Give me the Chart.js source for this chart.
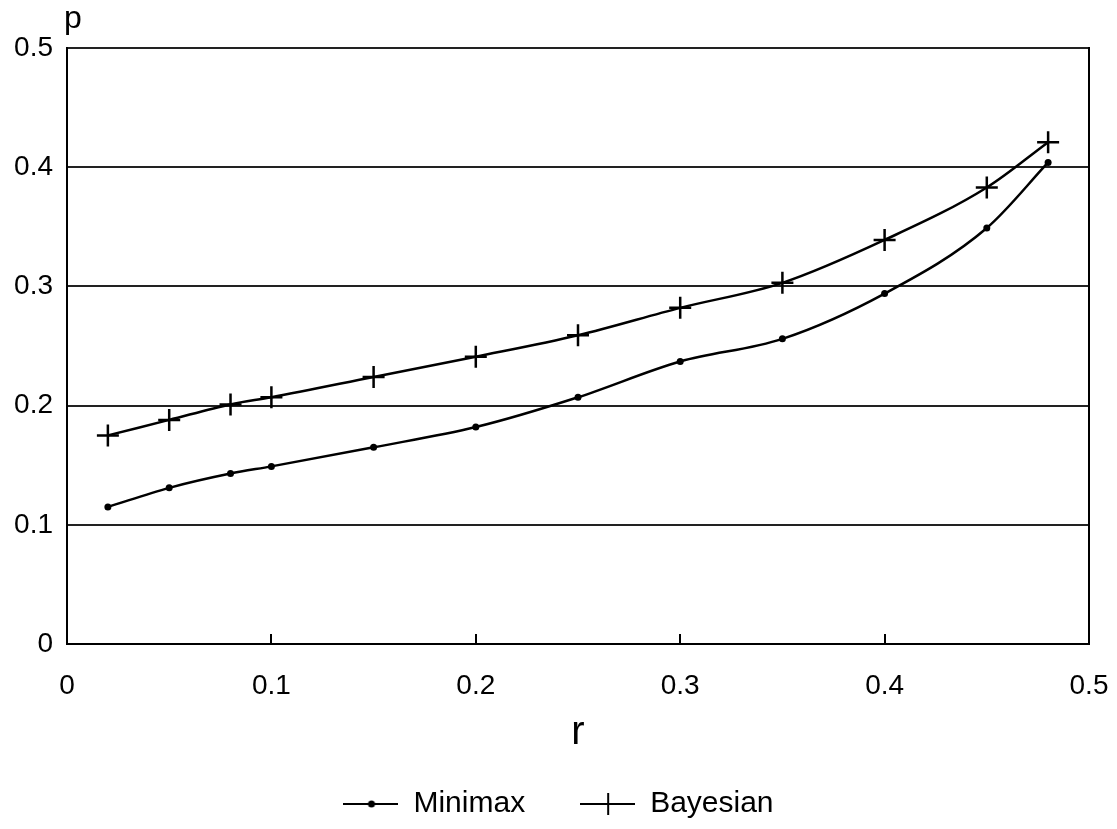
<!DOCTYPE html>
<html>
<head>
<meta charset="utf-8">
<script src="https://cdn.jsdelivr.net/npm/chart.js@4"></script>
<style>
  html, body { margin: 0; padding: 0; background: #fff; }
  #wrap { width: 1117px; height: 829px; }
</style>
</head>
<body>
<div id="wrap"><canvas id="chart"></canvas></div>
<script>
// values
const rValues = [0.02, 0.05, 0.08, 0.1, 0.15, 0.2, 0.25, 0.3, 0.35, 0.4, 0.45, 0.48];
const minimax = [0.115, 0.131, 0.143, 0.149, 0.165, 0.182, 0.207, 0.237, 0.256, 0.294, 0.349, 0.404];
const bayesian = [0.175, 0.188, 0.201, 0.207, 0.224, 0.241, 0.259, 0.282, 0.303, 0.339, 0.383, 0.421];
const xTickLabels = ['0', '0.1', '0.2', '0.3', '0.4', '0.5'];
const yTickLabels = ['0', '0.1', '0.2', '0.3', '0.4', '0.5'];

const FONT = 'Liberation Sans, Arial, sans-serif';

// little legend markers: a line with a dot, a line with a bar through it
function legendMark(kind) {
    const c = document.createElement('canvas');
    c.width = 55;
    c.height = 24;
    const g = c.getContext('2d');
    g.strokeStyle = '#000';
    g.fillStyle = '#000';
    g.lineWidth = 2;
    g.beginPath();
    g.moveTo(0, 12);
    g.lineTo(55, 12);
    g.stroke();
    if (kind === 'dot') {
        g.beginPath();
        g.arc(28, 12, 3.5, 0, Math.PI * 2);
        g.fill();
    } else {
        g.beginPath();
        g.moveTo(28, 1);
        g.lineTo(28, 23);
        g.stroke();
    }
    return c;
}
const marks = [legendMark('dot'), legendMark('cross')];

// "p" sits above the y axis, not rotated
const pLabel = {
    id: 'pLabel',
    afterDraw(chart) {
        const {ctx, chartArea} = chart;
        ctx.save();
        ctx.font = '32px ' + FONT;
        ctx.fillStyle = '#000';
        ctx.textAlign = 'left';
        ctx.textBaseline = 'alphabetic';
        ctx.fillText('p', chartArea.left - 3, chartArea.top - 20);
        ctx.restore();
    }
};

const ctx = document.querySelector('#chart').getContext('2d');

new Chart(ctx, {
    type: 'line',
    data: {
        datasets: [
            {
                label: 'Minimax',
                data: rValues.map((r, i) => ({x: r, y: minimax[i]})),
                borderColor: '#000',
                backgroundColor: '#000',
                borderWidth: 2.5,
                pointStyle: 'circle',
                pointRadius: 3.5,
                pointBorderWidth: 0,
                cubicInterpolationMode: 'monotone'
            },
            {
                label: 'Bayesian',
                data: rValues.map((r, i) => ({x: r, y: bayesian[i]})),
                borderColor: '#000',
                backgroundColor: '#000',
                borderWidth: 2.5,
                pointStyle: 'cross',
                pointRadius: 11,
                pointBorderWidth: 2.5,
                cubicInterpolationMode: 'monotone'
            }
        ]
    },
    options: {
        responsive: true,
        maintainAspectRatio: false,
        animation: false,
        layout: { padding: { top: 48, left: 0, right: 0, bottom: 0 } },
        plugins: {
            tooltip: { enabled: false },
            legend: {
                position: 'bottom',
                labels: {
                    usePointStyle: true,
                    pointStyleWidth: 55,
                    padding: 55,
                    color: '#000',
                    font: { family: FONT, size: 30 },
                    generateLabels(chart) {
                        return chart.data.datasets.map((ds, i) => ({
                            text: ds.label,
                            pointStyle: marks[i],
                            fillStyle: '#000',
                            strokeStyle: '#000',
                            lineWidth: 0,
                            fontColor: '#000',
                            datasetIndex: i
                        }));
                    }
                }
            }
        },
        scales: {
            x: {
                type: 'linear',
                min: 0,
                max: 0.5,
                afterFit(scale) { scale.height = 90; },
                ticks: {
                    stepSize: 0.1,
                    padding: 2,
                    color: '#000',
                    // tall line box pushes the labels down without a big padding
                    font: { family: FONT, size: 28, lineHeight: '100px' },
                    callback: (v, i) => xTickLabels[i]
                },
                grid: {
                    drawOnChartArea: false,
                    drawTicks: true,
                    tickLength: -10,
                    color: '#000',
                    lineWidth: 2
                },
                border: { display: true, color: '#000', width: 2 },
                title: {
                    display: true,
                    text: 'r',
                    color: '#000',
                    font: { family: FONT, size: 40 },
                    padding: { top: 0, bottom: -23 }
                }
            },
            y: {
                min: 0,
                max: 0.5,
                afterFit(scale) { scale.width = 67; },
                ticks: {
                    stepSize: 0.1,
                    padding: 14,
                    color: '#000',
                    font: { family: FONT, size: 28 },
                    callback: (v, i) => yTickLabels[i]
                },
                grid: {
                    drawTicks: false,
                    color: '#222',
                    lineWidth: 2
                },
                border: { display: true, color: '#000', width: 2 }
            },
            y2: {
                position: 'right',
                min: 0,
                max: 0.5,
                afterFit(scale) { scale.width = 28; },
                ticks: { display: false },
                grid: { display: false },
                border: { display: true, color: '#000', width: 2 }
            }
        }
    },
    plugins: [pLabel]
});
</script>
</body>
</html>
